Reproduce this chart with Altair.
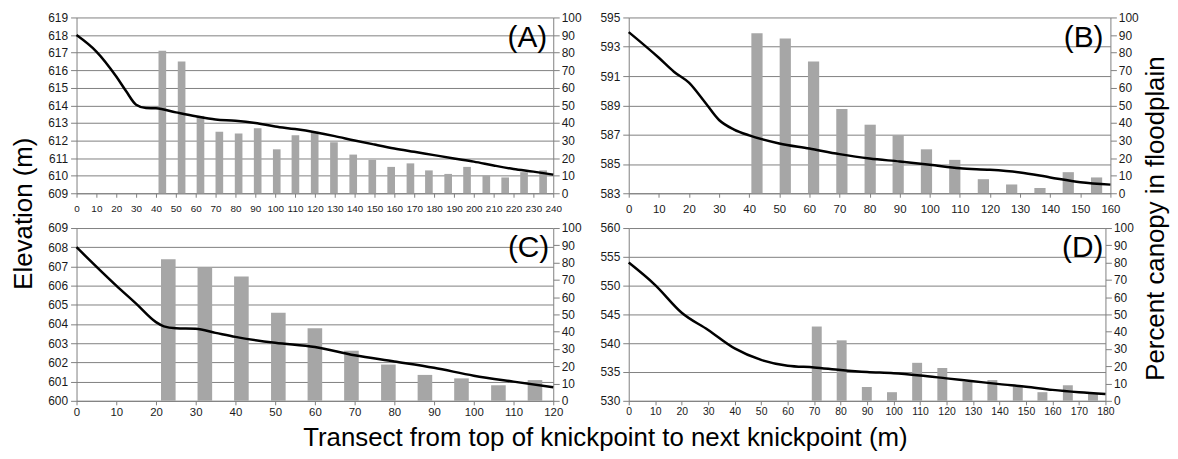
import altair as alt
import pandas as pd

FONT = "Liberation Sans"

# ---------------- Panel A ----------------
a_line_x = [0, 10, 20, 25, 30, 35, 40, 50, 60, 70, 80, 90, 100, 110, 120, 130, 140,
            150, 160, 170, 180, 190, 200, 210, 220, 230, 240]
a_line_elev = [618.0, 617.06, 615.64, 614.8, 614.04, 613.85, 613.83, 613.6, 613.38, 613.2,
               613.13, 613.0, 612.8, 612.65, 612.47, 612.25, 612.0, 611.77, 611.55, 611.36,
               611.17, 610.98, 610.8, 610.58, 610.38, 610.23, 610.06]
a_bar_x = [43.2, 52.9, 62.4, 71.9, 81.6, 91.2, 100.8, 110.2, 119.9, 129.6, 139.3, 148.9,
           158.4, 168.1, 177.4, 187.1, 196.6, 206.3, 215.8, 225.3, 234.9]
a_bar_pct = [81, 75, 44, 35, 34, 37, 25, 33, 35, 29, 22, 19, 15, 17, 13, 11, 15, 10, 9, 12, 13]

# ---------------- Panel B ----------------
b_line_x = [0, 10, 15, 20, 25, 30, 35, 40, 50, 60, 70, 80, 90, 100, 110, 120, 130, 140, 150, 160]
b_line_elev = [594.0, 592.25, 591.3, 590.55, 589.3, 588.0, 587.35, 586.95, 586.4, 586.05,
               585.67, 585.37, 585.17, 584.95, 584.7, 584.6, 584.42, 584.08, 583.75, 583.59]
b_bar_x = [42.6, 52.0, 61.4, 70.8, 80.2, 89.5, 98.9, 108.3, 117.8, 127.2, 136.6, 146.0, 155.4]
b_bar_pct = [91, 88, 75, 48, 39, 33, 25, 19, 8, 5, 3, 12, 9]

# ---------------- Panel C ----------------
c_line_x = [0, 10, 15, 20, 22, 25, 30, 35, 40, 50, 60, 70, 80, 90, 100, 110, 120]
c_line_elev = [608.0, 606.0, 605.06, 604.1, 603.88, 603.78, 603.75, 603.54, 603.33, 603.02,
               602.8, 602.37, 602.05, 601.72, 601.31, 601.0, 600.71]
c_bar_x = [23.1, 32.3, 41.5, 50.8, 60.0, 69.2, 78.5, 87.7, 96.9, 106.2, 115.4]
c_bar_pct = [82, 77, 72, 51, 42, 29, 21, 15, 13, 9, 12]

# ---------------- Panel D ----------------
d_line_x = [0, 10, 20, 30, 40, 50, 60, 70, 80, 90, 100, 110, 120, 130, 140, 150, 160, 170, 180]
d_line_elev = [554.0, 550.1, 545.3, 542.3, 539.1, 537.1, 536.1, 535.8, 535.35, 535.0, 534.8,
               534.4, 533.9, 533.4, 532.9, 532.45, 531.9, 531.5, 531.2]
d_bar_x = [71.0, 80.4, 89.9, 99.4, 108.9, 118.4, 127.9, 137.3, 146.9, 156.2, 165.8, 175.3]
d_bar_pct = [43, 35, 8, 5, 22, 19, 11, 12, 8.5, 5, 9, 4.5]

pct_ticks = list(range(0, 101, 10))

GRID = "#808080"
BAR = "#a6a6a6"


def panel(lx, ly, bx, bp, xmax, ymin, ymax, ystep, w, h, label, label_inset,
          bar_size, x_label_size, x_label_pad, left_title=None, right_title=None,
          bottom_title=None):
    line_df = pd.DataFrame({"x": lx, "elev": ly})
    bar_df = pd.DataFrame({"x": bx, "pct": bp})
    xvals = list(range(0, xmax + 1, 10))
    yvals = list(range(ymin, ymax + 1, ystep))

    x_axis_kw = dict(values=xvals, labelFontSize=x_label_size, labelPadding=x_label_pad,
                     tickSize=4, labelFlush=False, labelOverlap=False, grid=False, title="")
    if bottom_title:
        x_axis_kw.update(title=bottom_title, titleX=532, titleY=45, titleAlign="center",
                         titleBaseline="alphabetic", titleFontSize=26,
                         titleFontWeight="normal", titleColor="black")
    xenc = alt.X("x:Q", scale=alt.Scale(domain=[0, xmax], nice=False, zero=False, padding=0),
                 axis=alt.Axis(**x_axis_kw))

    left_kw = dict(orient="left", values=yvals, grid=True, tickSize=6, labelPadding=3,
                   labelFlush=False, labelOverlap=False, title="")
    if left_title:
        left_kw.update(title=left_title, titleX=-53, titleY=197, titleAngle=270,
                       titleAlign="center", titleBaseline="middle", titleFontSize=26,
                       titleFontWeight="normal", titleColor="black")
    right_kw = dict(orient="right", values=pct_ticks, grid=False, tickSize=6, labelPadding=2,
                    labelFlush=False, labelOverlap=False, title="")
    if right_title:
        right_kw.update(title=right_title, titleX=45, titleY=202, titleAngle=270,
                        titleAlign="center", titleBaseline="middle", titleFontSize=26,
                        titleFontWeight="normal", titleColor="black")

    bars = alt.Chart(bar_df).mark_bar(color=BAR, size=bar_size).encode(
        x=xenc,
        y=alt.Y("pct:Q", scale=alt.Scale(domain=[0, 100], nice=False),
                axis=alt.Axis(**right_kw)),
    )
    line = alt.Chart(line_df).mark_line(color="black", strokeWidth=2.5,
                                        interpolate="monotone").encode(
        x=xenc,
        y=alt.Y("elev:Q", scale=alt.Scale(domain=[ymin, ymax], nice=False, zero=False),
                axis=alt.Axis(**left_kw)),
    )
    txt = alt.Chart(pd.DataFrame({"t": [label]})).mark_text(
        align="right", baseline="alphabetic", fontSize=30, font=FONT, color="black"
    ).encode(text="t:N", x=alt.value(w - label_inset), y=alt.value(29.5))

    return alt.layer(bars, line, txt).resolve_scale(y="independent").properties(
        width=w, height=h)


pA = panel(a_line_x, a_line_elev, a_bar_x, a_bar_pct, 240, 609, 619, 1, 480, 177, "(A)", 6,
           7.7, 10, 6, left_title="Elevation (m)")
pB = panel(b_line_x, b_line_elev, b_bar_x, b_bar_pct, 160, 583, 595, 2, 485, 177, "(B)", 7,
           11.3, 11.5, 6, right_title="Percent canopy in floodplain")
pC = panel(c_line_x, c_line_elev, c_bar_x, c_bar_pct, 120, 600, 609, 1, 480, 174, "(C)", 4,
           14.7, 11.5, 2,
           bottom_title="Transect from top of knickpoint to next knickpoint (m)")
pD = panel(d_line_x, d_line_elev, d_bar_x, d_bar_pct, 180, 530, 560, 5, 480, 174, "(D)", 2,
           10, 10.5, 2)

chart = alt.concat(pA, pB, pC, pD, columns=2, spacing={"row": 35, "column": 76},
                   bounds="flush", align="each").properties(
    padding={"left": 3, "top": 2, "right": 2, "bottom": 2}
).configure_axis(
    labelFont=FONT, labelColor="#1a1a1a", labelFontSize=12, titleFont=FONT,
    domainColor=GRID, tickColor=GRID, gridColor=GRID, domainWidth=1, tickWidth=1,
    gridWidth=1,
).configure_view(strokeOpacity=0)

chart.save("out.html", embed_options={"renderer": "svg", "actions": False})
